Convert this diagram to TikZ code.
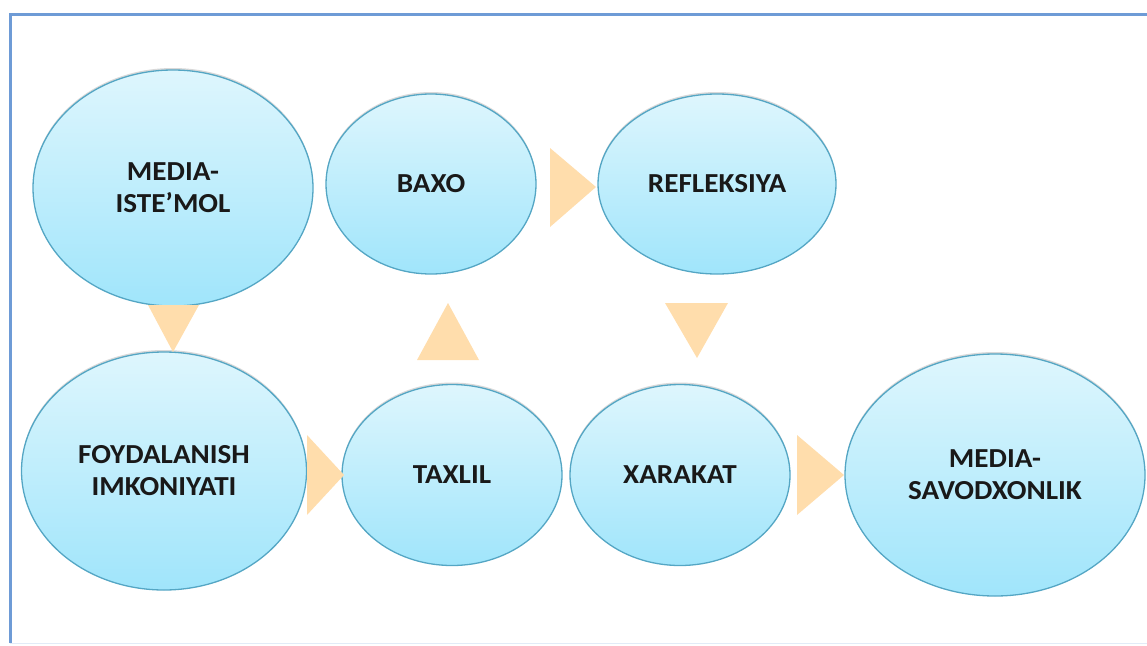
\documentclass[tikz,border=0pt]{standalone}
\usepackage{fontspec}
\setsansfont[FakeStretch=1.06]{Carlito}
\usetikzlibrary{shapes.geometric,shadows}
\definecolor{frameblue}{RGB}{110,155,214}
\definecolor{elltop}{RGB}{222,246,253}
\definecolor{ellbot}{RGB}{160,229,251}
\definecolor{ellline}{RGB}{84,166,196}
\definecolor{arrowfill}{RGB}{255,221,172}
\tikzset{
  bubble/.style={ellipse, draw=ellline, line width=1.3pt, top color=elltop, bottom color=ellbot,
    inner sep=0pt, align=center, text=black!90,
    font=\sffamily\bfseries\fontsize{27.5}{32}\selectfont,
    drop shadow={shadow xshift=0pt, shadow yshift=2pt, opacity=0.25, fill=black!60}},
  tri/.style={fill=arrowfill, draw=none}
}
\begin{document}
\begin{tikzpicture}[x=1pt,y=-1pt]
\useasboundingbox (0,0) rectangle (1147,645);
% frame
\draw[frameblue, line width=3pt] (10,643) -- (10,14) -- (1150,14);
\draw[frameblue!20, line width=1pt] (10,643) -- (1150,643);
% bubbles
\node[bubble, minimum width=280pt, minimum height=236pt] (ist) at (173,188) {MEDIA-\\ISTE’MOL};
\node[bubble, minimum width=210pt, minimum height=180pt] (baxo) at (431,184) {BAXO};
\node[bubble, minimum width=238pt, minimum height=180pt] (ref) at (717,184) {REFLEKSIYA};
\node[bubble, minimum width=285pt, minimum height=238pt] (foy) at (164,471) {FOYDALANISH\\IMKONIYATI};
\node[bubble, minimum width=220pt, minimum height=181pt] (tax) at (452,475) {TAXLIL};
\node[bubble, minimum width=220pt, minimum height=181pt] (xar) at (680,475) {XARAKAT};
\node[bubble, minimum width=300pt, minimum height=242pt] (sav) at (995,475) {MEDIA-\\SAVODXONLIK};
% triangle connectors
\fill[tri] (148,305) -- (199,305) -- (173,352) -- cycle;
\fill[tri] (307,435) -- (344,475) -- (307,515) -- cycle;
\fill[tri] (417,360) -- (479,360) -- (448,303) -- cycle;
\fill[tri] (550,148) -- (596,187) -- (550,227) -- cycle;
\fill[tri] (665,303) -- (728,303) -- (697,358) -- cycle;
\fill[tri] (797,435) -- (844,475) -- (797,515) -- cycle;
\end{tikzpicture}
\end{document}
